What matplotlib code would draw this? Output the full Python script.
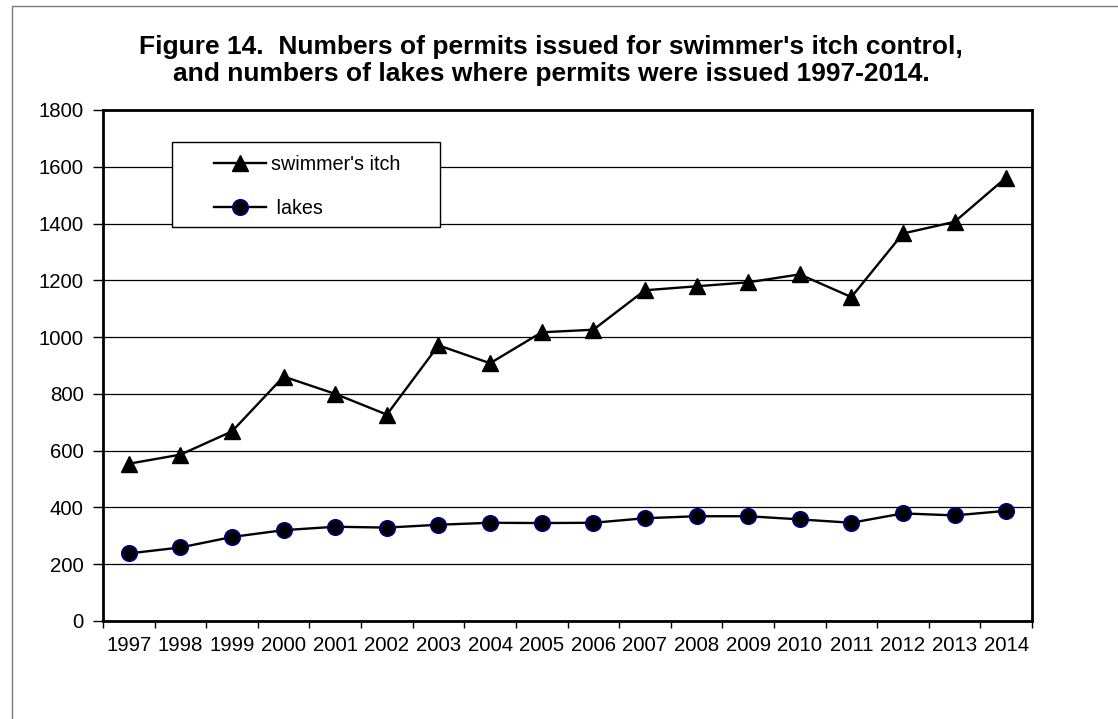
import matplotlib
matplotlib.use("Agg")
import matplotlib.pyplot as plt
from matplotlib.patches import Rectangle

# Values
years = [str(y) for y in range(1997, 2015)]
swimmers_itch = [554, 586, 668, 861, 800, 727, 971, 908, 1017, 1026,
                 1165, 1179, 1193, 1221, 1141, 1365, 1406, 1562]
lakes = [238, 259, 296, 320, 332, 329, 339, 346, 345, 346,
         362, 369, 369, 358, 346, 379, 372, 388]
y_ticks = list(range(0, 1801, 200))

TITLE = ("Figure 14.  Numbers of permits issued for swimmer's itch control,\n"
         "and numbers of lakes where permits were issued 1997-2014.")

W, H = 1118, 719
plt.rcParams["font.family"] = ["Liberation Sans", "DejaVu Sans"]

fig = plt.figure(figsize=(W / 100, H / 100), dpi=100)
fig.patch.set_facecolor("white")

# outer chart border (runs off the right and bottom of the image)
fig.add_artist(Rectangle((12 / W, -0.2), 1.5, 1 - 6 / H + 0.2,
                         transform=fig.transFigure, fill=False,
                         edgecolor="#7a7a7a", linewidth=1.0))

ax = fig.add_axes([103 / W, 1 - 621 / H, (1032 - 103) / W, (621 - 110) / H])

x = list(range(len(years)))
ax.plot(x, swimmers_itch, color="black", linewidth=1.7, marker="^",
        markersize=11.5, markerfacecolor="black", markeredgecolor="black",
        label="swimmer's itch", zorder=4)
ax.plot(x, lakes, color="black", linewidth=1.7, marker="o",
        markersize=11, markerfacecolor="black", markeredgecolor="#000080",
        markeredgewidth=1.3, label=" lakes", zorder=4)

ax.set_xlim(-0.5, len(years) - 0.5)
ax.set_ylim(0, 1800)
ax.set_yticks(y_ticks)
ax.set_xticks(x)
ax.set_xticklabels(years)
ax.set_xticks([i - 0.5 for i in range(len(years) + 1)], minor=True)
ax.tick_params(axis="x", which="major", length=0, pad=11, labelsize=14.7)
ax.tick_params(axis="x", which="minor", length=5, width=1, direction="out")
ax.tick_params(axis="y", length=7, width=1, direction="out", pad=7, labelsize=14.7)

ax.yaxis.grid(True, color="black", linewidth=0.9)
ax.set_axisbelow(True)
for s in ax.spines.values():
    s.set_linewidth(2)
    s.set_color("black")

fig.text(0.493, 1 - 60.5 / H, TITLE, ha="center", va="center",
         fontsize=19, fontweight="bold", linespacing=1.2)

# legend box drawn by hand so it sits on top of the gridlines
ax.add_patch(Rectangle((172 / W, 1 - 227 / H), 268 / W, 85 / H,
                       transform=fig.transFigure, facecolor="white",
                       edgecolor="black", linewidth=1.0, zorder=3))
leg = ax.legend(loc="upper left", bbox_to_anchor=(214 / W, 1 - 155 / H),
                bbox_transform=fig.transFigure, frameon=False, fontsize=14.2,
                borderpad=0, borderaxespad=0, handlelength=2.65,
                handletextpad=0.25, labelspacing=1.25)
leg.set_zorder(5)

fig.savefig("out.png", dpi=100)
